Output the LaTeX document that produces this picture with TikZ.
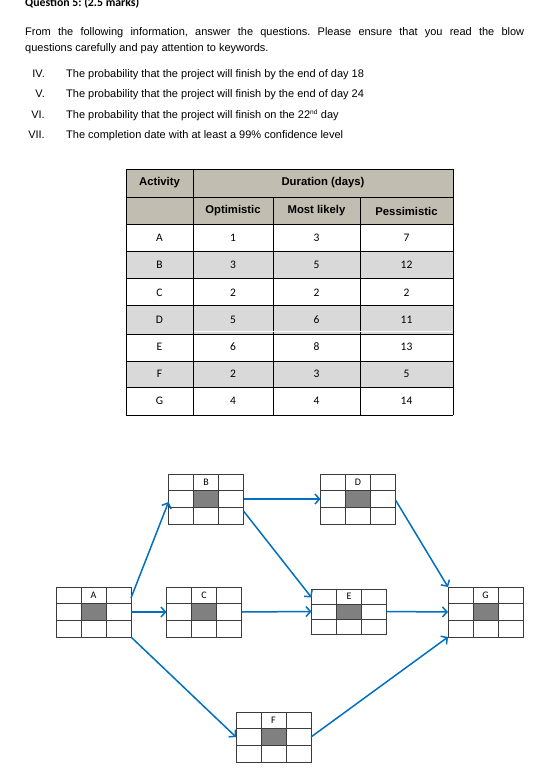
\documentclass[tikz,border=0pt]{standalone}
\usepackage{fontspec}
\setmainfont{Liberation Sans}
\newfontfamily\calib{Carlito}
\usetikzlibrary{calc,arrows.meta}
\definecolor{hdrfill}{RGB}{193,189,176}
\definecolor{rowfill}{RGB}{217,217,217}
\definecolor{arrowblue}{RGB}{0,112,192}
\definecolor{cellgray}{RGB}{128,128,128}
\definecolor{gridcol}{RGB}{60,60,60}
\newcommand\actbox[4]{% name, center, height, letter
  \node[abox, minimum height=#3pt] (#1) at #2 {};
  \fill[cellgray] ($(#1.center)+(-12.5,-#3/6)$) rectangle ($(#1.center)+(12.5,#3/6)$);
  \draw[gridline] (#1.north west) rectangle (#1.south east);
  \draw[gridline] ($(#1.north west)+(25,0)$) -- ($(#1.south west)+(25,0)$);
  \draw[gridline] ($(#1.north west)+(50,0)$) -- ($(#1.south west)+(50,0)$);
  \draw[gridline] ($(#1.north west)+(0,#3/3)$) -- ($(#1.north east)+(0,#3/3)$);
  \draw[gridline] ($(#1.north west)+(0,2*#3/3)$) -- ($(#1.north east)+(0,2*#3/3)$);
  \node[boxletter] (#1lab) at ($(#1.north)+(0,#3/6)$) {#4};
}
\begin{document}
\frenchspacing
\begin{tikzpicture}[x=1pt,y=-1pt,
  body/.style={font=\fontsize{11}{13}\selectfont, inner sep=0pt},
  hdr/.style={font=\bfseries\fontsize{11.3}{13}\selectfont, inner sep=0pt},
  cell/.style={font=\calib\fontsize{11.5}{13}\selectfont, inner sep=0pt},
  tline/.style={draw=black, line width=0.8pt},
  abox/.style={rectangle, minimum width=75pt, inner sep=0pt, outer sep=0pt},
  gridline/.style={draw=gridcol, line width=0.9pt},
  boxletter/.style={font=\calib\fontsize{10}{11}\selectfont, inner sep=0pt},
  flow/.style={draw=arrowblue, line width=1.5pt, -{Straight Barb[length=4.5pt,width=10pt,line width=1.5pt]}}
]
\useasboundingbox (0,0) rectangle (556,780);
\fill[white] (0,0) rectangle (556,780);

% heading text
\node[anchor=base west, font=\calib\bfseries\fontsize{11.8}{13}\selectfont, inner sep=0pt] (q) at (25,6) {Question 5: (2.5 marks)};
\node[body, anchor=base west] (p1) at (25,35) {\makebox[499pt][s]{From the following information, answer the questions. Please ensure that you read the blow}};
\node[body, anchor=base west] (p2) at (25,51) {questions carefully and pay attention to keywords.};

\node[body, anchor=base east] (n4) at (45,77) {IV.};
\node[body, anchor=base east] (n5) at (45,97) {V.};
\node[body, anchor=base east] (n6) at (45,118) {VI.};
\node[body, anchor=base east] (n7) at (45,138) {VII.};
\node[body, anchor=base west] (t4) at (66,77) {The probability that the project will finish by the end of day 18};
\node[body, anchor=base west] (t5) at (66,97) {The probability that the project will finish by the end of day 24};
\node[body, anchor=base west] (t6) at (66,118) {The probability that the project will finish on the 22\textsuperscript{\fontsize{6.5}{7}\selectfont nd} day};
\node[body, anchor=base west] (t7) at (66,138) {The completion date with at least a 99\% confidence level};

% table fills
\fill[hdrfill] (126,169) rectangle (453,224);
\fill[rowfill] (126,251.7) rectangle (453,278.3);
\fill[rowfill] (126,305) rectangle (453,334);
\fill[rowfill] (126,361.7) rectangle (453,387.7);
% table lines
\foreach \yy in {169,197.3,224.3,251.7,278.3,305,334,361.7,387.7,415}
  \draw[tline] (126,\yy) -- (453,\yy);
\draw[tline] (126,169) -- (126,415);
\draw[tline] (193,169) -- (193,415);
\draw[tline] (453,169) -- (453,415);
\draw[tline] (273,197.3) -- (273,415);
\draw[tline] (360,197.3) -- (360,415);
\draw[white, line width=0.6pt] (194,331) -- (452,331);

% table text
\node[hdr] (hact) at (159.5,183) {Activity};
\node[hdr] (hdur) at (323,183) {Duration (days)};
\node[hdr] (hopt) at (233,211) {Optimistic};
\node[hdr] (hml) at (316.5,211) {Most likely};
\node[hdr] (hpes) at (406.5,211) {Pessimistic};
\foreach \act/\o/\m/\p [count=\i] in {A/1/3/7, B/3/5/12, C/2/2/2, D/5/6/11, E/6/8/13, F/2/3/5, G/4/4/14}{
  \pgfmathsetmacro\yc{238+(\i-1)*27.2}
  \node[cell] (r\i a) at (159.5,\yc) {\act};
  \node[cell] (r\i o) at (233,\yc) {\o};
  \node[cell] (r\i m) at (316.5,\yc) {\m};
  \node[cell] (r\i p) at (406.5,\yc) {\p};
}

% network boxes
\actbox{A}{(93.5,612)}{50}{A}
\actbox{B}{(206,499)}{50}{B}
\actbox{C}{(204,612)}{50}{C}
\actbox{D}{(358,499)}{50}{D}
\actbox{E}{(349,611.5)}{45}{E}
\actbox{F}{(273.5,737)}{50}{F}
\actbox{G}{(485.5,612)}{50}{G}

% connectors
\draw[flow] ($(A.east)+(0,-14)$) -- ($(B.west)+(0,3)$);
\draw[flow] (A.east) -- (C.west);
\draw[flow] (A.south east) -- (F.west);
\draw[flow] (B.east) -- (D.west);
\draw[flow] ($(B.east)+(0,12)$) -- ($(E.west)+(0,-14)$);
\draw[flow] (C.east) -- (E.west);
\draw[flow] ($(D.east)+(0,1)$) -- (G.north west);
\draw[flow] (E.east) -- (G.west);
\draw[flow] (F.east) -- (G.south west);
\end{tikzpicture}
\end{document}
